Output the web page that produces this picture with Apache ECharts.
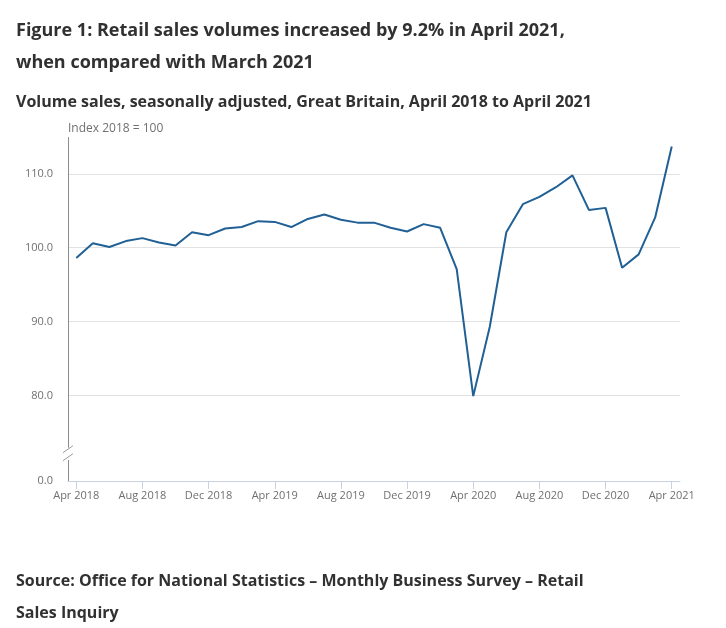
<!DOCTYPE html>
<html>
<head>
<meta charset="utf-8">
<title>Retail sales volumes</title>
<script src="https://cdn.jsdelivr.net/npm/echarts@6.0.0/dist/echarts.min.js"></script>
<style>
    html, body { margin: 0; padding: 0; background: #fff; }
    #chart { width: 726px; height: 628px; }
</style>
</head>
<body>
<div id="chart"></div>
<script>
var months = [
    'Apr 2018', 'May 2018', 'Jun 2018', 'Jul 2018', 'Aug 2018', 'Sep 2018',
    'Oct 2018', 'Nov 2018', 'Dec 2018', 'Jan 2019', 'Feb 2019', 'Mar 2019',
    'Apr 2019', 'May 2019', 'Jun 2019', 'Jul 2019', 'Aug 2019', 'Sep 2019',
    'Oct 2019', 'Nov 2019', 'Dec 2019', 'Jan 2020', 'Feb 2020', 'Mar 2020',
    'Apr 2020', 'May 2020', 'Jun 2020', 'Jul 2020', 'Aug 2020', 'Sep 2020',
    'Oct 2020', 'Nov 2020', 'Dec 2020', 'Jan 2021', 'Feb 2021', 'Mar 2021',
    'Apr 2021'
];
var volumes = [
    98.6, 100.6, 100.1, 100.9, 101.3, 100.7, 100.3, 102.1, 101.7, 102.6, 102.8, 103.6,
    103.5, 102.8, 103.9, 104.5, 103.8, 103.4, 103.4, 102.7, 102.2, 103.2, 102.7, 97.1,
    79.9, 89.3, 102.1, 105.9, 106.9, 108.2, 109.8, 105.1, 105.4, 97.3, 99.1, 104.1,
    113.7
];
var yTicks = [0, 80, 90, 100, 110];
var axisBreak = { start: 2.8, end: 73, gap: 1.8 };

var font = '"Open Sans", "Noto Sans", sans-serif';
var textColor = '#323132';
var gridLeft = 68;

var chart = echarts.init(document.getElementById('chart'));

option = {
    animation: false,
    title: [{
        text: 'Figure 1: Retail sales volumes increased by 9.2% in April 2021,\nwhen compared with March 2021',
        left: 16,
        top: 15,
        padding: 0,
        textStyle: {
            fontFamily: font,
            fontSize: 18,
            fontWeight: 'bold',
            color: textColor,
            lineHeight: 32
        }
    }, {
        text: 'Volume sales, seasonally adjusted, Great Britain, April 2018 to April 2021',
        left: 16,
        top: 89,
        padding: 0,
        textStyle: {
            fontFamily: font,
            fontSize: 16,
            fontWeight: 'bold',
            color: textColor,
            lineHeight: 26
        }
    }, {
        text: 'Source: Office for National Statistics \u2013 Monthly Business Survey \u2013 Retail\nSales Inquiry',
        left: 16,
        top: 565,
        padding: 0,
        textStyle: {
            fontFamily: font,
            fontSize: 16,
            fontWeight: 'bold',
            color: textColor,
            lineHeight: 32
        }
    }],
    grid: {
        left: gridLeft,
        right: 46,
        top: 137,
        bottom: 147
    },
    xAxis: {
        type: 'category',
        data: months,
        boundaryGap: true,
        axisLine: { show: true, lineStyle: { color: '#c8d2e2', width: 1 } },
        axisTick: {
            show: true,
            alignWithLabel: true,
            interval: 3,
            length: 8,
            lineStyle: { color: '#c8d2e2', width: 1 }
        },
        axisLabel: {
            interval: 3,
            margin: 9,
            fontFamily: font,
            fontSize: 11,
            color: '#707070'
        }
    },
    yAxis: {
        type: 'value',
        min: 0,
        max: 115,
        interval: 10,
        breaks: [axisBreak],
        breakArea: { show: false },
        name: 'Index 2018 = 100',
        nameLocation: 'end',
        nameGap: 2,
        nameTextStyle: {
            align: 'left',
            fontFamily: font,
            fontSize: 12,
            color: '#707070'
        },
        axisLine: { show: true, lineStyle: { color: '#8c8c8c', width: 1 } },
        axisTick: { show: false, customValues: yTicks },
        splitLine: {
            show: true,
            lineStyle: { color: '#e2e2e2', width: 1 }
        },
        axisLabel: {
            customValues: yTicks,
            margin: 15,
            fontFamily: font,
            fontSize: 11,
            color: '#707070',
            formatter: function (v) {
                return Number(v).toFixed(1);
            }
        }
    },
    series: [{
        type: 'line',
        data: volumes,
        showSymbol: false,
        symbol: 'none',
        lineStyle: { color: '#206095', width: 2 },
        itemStyle: { color: '#206095' }
    }]
};
chart.setOption(option);

// small "//" mark where the y axis is broken
var yLow = chart.convertToPixel({ yAxisIndex: 0 }, axisBreak.start);
var yHigh = chart.convertToPixel({ yAxisIndex: 0 }, axisBreak.end);
var mid = (yLow + yHigh) / 2;
chart.setOption({
    graphic: [{
        type: 'rect',
        shape: { x: gridLeft - 2, y: mid - 6, width: 4, height: 12 },
        style: { fill: '#fff' },
        z: 100
    }, {
        type: 'line',
        shape: { x1: gridLeft - 5, y1: mid - 1, x2: gridLeft + 5, y2: mid - 8 },
        style: { stroke: '#9a9a9a', lineWidth: 1 },
        z: 101
    }, {
        type: 'line',
        shape: { x1: gridLeft - 5, y1: mid + 7, x2: gridLeft + 5, y2: mid },
        style: { stroke: '#9a9a9a', lineWidth: 1 },
        z: 101
    }]
});
</script>
</body>
</html>
